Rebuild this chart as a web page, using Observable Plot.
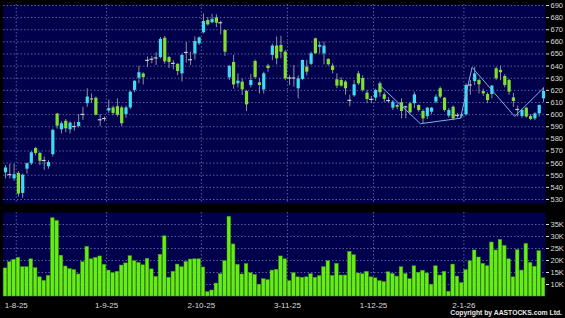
<!DOCTYPE html>
<html><head><meta charset="utf-8">
<script src="https://cdn.jsdelivr.net/npm/d3@7"></script>
<script src="https://cdn.jsdelivr.net/npm/@observablehq/plot@0.6"></script>
<style>
html,body{margin:0;padding:0;background:#000;}
#chart{position:relative;width:565px;height:318px;background:#000;overflow:hidden;font-family:"Liberation Sans",Arial,sans-serif;}
#chart svg{display:block;}
#copy{position:absolute;right:3px;bottom:1px;color:#e8e8e8;font-size:6.8px;font-weight:bold;line-height:9px;white-space:nowrap;}
</style></head><body><div id="chart"><div id="copy">Copyright by AASTOCKS.com Ltd.</div></div>
<script>
const open = [552,550.3,547,551.5,535,555,559.5,572,568,562,557,567,600.5,587.5,594.5,587.5,590,590.2,600,609,
613,613.5,596,596.5,603,605.5,606.5,605.5,600,605.5,620,630,633.5,644.5,646,646.5,647,663,647,642,
641.5,633.6,651,645.5,650,658.4,667.5,677.6,675.7,679.8,675.5,669.4,630.3,643,625.4,626.8,619,624,643.8,626.2,
620.4,640,648.8,656.5,657,651.5,630.5,629.8,621.3,629,639.1,641.5,662.5,655.6,650.1,645.5,640,628.7,628.1,626.8,
611.5,615.5,633.6,629.8,617.7,612.3,613.6,625.4,616.3,612,605.3,607.5,609.7,606.2,608.9,609,607.5,602.6,598.4,602,
610.3,621.3,613.6,598.7,606.1,599.1,598.7,599.8,624.2,627.3,628.1,619,616.6,616.6,637.8,636.5,631.4,628.1,613.8,604,
598.5,605.3,598.4,596.5,600.6,613];
const close = [556,550.8,550.5,534.5,550,559.5,568.5,568,561.5,562.3,560.5,587,590.5,592.5,588.3,593,590.3,593.5,600.3,614.5,
612,599.5,595.5,597,605,601,599.5,592.5,605.5,618.5,627.5,634.5,630.5,645,645.3,647,662,643.5,643,642.5,
635.5,648.8,651.5,645,660.3,663.3,676.8,674,678.5,675.4,676,651.5,639.7,624.5,627.6,620.4,608,628.1,630.5,624,
633.6,638,656.5,646,651.5,629.5,629.8,630.5,629.5,644.6,635,650.1,650.1,657,656.5,641.1,636.4,623.5,623.5,621.3,
612,624.6,625.4,620,612.5,612.8,619.9,618,612.5,611.2,610.3,606.1,602.6,606.6,601.5,616.3,603.4,596.5,605.3,605.3,
614.4,614.4,603.4,603.4,596.5,599.5,599.8,624,624.6,633.6,624.6,617.1,611.6,623.5,629.5,634.5,624,618.5,610.8,604.4,
603.4,598,596,600.6,607.5,619.1];
const high = [558,559,559,553,551,560,569.5,573,569,565,562,588,601,594,596,594,593.8,600,606,621.3,
617,614.5,600,598,612,607,613,607,607,619,628,639.7,634.5,647.5,648,651,663.5,664.5,648,644.5,
642,650,659.5,651.5,664,664,683,680,682.6,682.3,677,670,640.5,649,633.6,629.5,620,633,645,630,
635,641.5,658,664,664.5,653,632,640.5,632,645,644.7,651.5,663,659.8,659.8,646,641.9,633.6,630.3,628,
616,628,635.5,632,620,615,621,626.8,618,614,611.7,609,613,607,610,618.5,608,604,606,606,
616.3,622.7,614,605,607,601,600.5,625.4,628,639,629,621,618,624,639,639.9,633,629,617.5,607,
604.5,606,600,601.5,608,622];
const low = [547,547,545,532,531,551,558,566,558,554,555,565,588,584,585,584,586.4,589,595,606,
609,599,590,594,601,599,598,590,597,604,618,625.4,624.5,639,642,640.5,646,641.5,638,637,
632,627,642.5,640.5,645,657,666.5,673,675,671.7,665.8,648,628,621,622,615.8,602.6,622,629,617,
617,635,644.6,641,646,628,624,622.6,613,628,632,640.5,650,650,641,640,633.6,621.3,622.6,616,
606.5,614.4,624,618.5,609,609,611,614.4,610,609,603.4,604,596.5,596.5,600.6,605,602,592.5,596,600,
609,613,602,597,595,597,596.5,598.7,616,624,617,615,609,613,628,628,622,616,606,598,
597,597,595,595,598,610];
const volume = [16.7,19.3,20.3,21.1,17.2,17.2,20.5,16.8,13.0,11.5,13.6,37.6,36.5,22.0,17.5,16.4,16.0,14.2,19.3,25.7,
20.5,21.1,21.7,18.2,15.8,14.7,15.3,17.9,18.8,21.8,19.7,19.0,18.0,20.7,16.3,13.2,22.4,30.1,12.8,15.3,
18.3,17.2,19.4,20.4,20.5,20.5,17.1,6.8,7.5,10.4,14.3,19.7,38.2,26.7,18.2,14.2,18.5,14.7,14.0,9.9,
12.2,11.8,15.8,16.1,21.7,20.5,11.4,14.7,13.0,12.8,13.0,14.3,12.8,13.5,17.2,19.7,13.6,18.6,13.75,13.75,
23.6,22.2,14.6,14.3,15.3,13.0,12.6,11.4,11.0,15.1,14.4,13.3,17.2,14.4,12.2,17.6,14.9,15.7,14.6,9.9,
17.6,13.75,15.3,7.0,18.3,13.3,10.6,16.0,19.7,24.2,21.25,18.6,17.6,27.5,24.2,28.6,26.1,20.5,13.0,24.3,
15.8,26.9,19.0,17.4,23.9,12.6];
const zigzagIndex = [86.7, 96.4, 105.7, 108.4, 118.3, 125];
const zigzagPrice = [625, 592.5, 597, 639, 598.5, 622];
const tickPos = [2.5, 23.5, 45.5, 65.5, 85.5, 106.5];
const tickLabels = ["1-8-25", "1-9-25", "2-10-25", "3-11-25", "1-12-25", "2-1-26"];
const priceTicks = d3.range(530, 691, 10);
const volTicks = [10, 15, 20, 25, 30, 35];

const NAVY = "#00004c", GRID = "#55609a", CYAN = "#3fdcf0", GREEN = "#80e030",
      WICK = "#8e8e9e", DOJI = "#c8c8c8", ZZ = "#7fb2e6", VFILL = "#66ee14", VSTROKE = "#3f9a10", TXT = "#dcdcdc";
const FONT = "Liberation Sans, Arial, sans-serif";
const xDomain = [-0.46, 125.46];

const idx = d3.range(open.length);
const candles = idx.map(i => ({i, o: open[i], h: high[i], l: low[i], c: close[i]}));
const bodies = candles.filter(d => Math.abs(d.c - d.o) >= 1);
const dojis = candles.filter(d => Math.abs(d.c - d.o) < 1);
const zz = zigzagIndex.map((x, k) => ({x, p: zigzagPrice[k]}));
const vol = idx.map(i => ({i, v: volume[i]}));

const pricePlot = Plot.plot({
  width: 565, height: 204,
  marginTop: 4, marginBottom: 1, marginLeft: 3, marginRight: 20,
  style: {background: "transparent", color: TXT, fontSize: "8px", fontFamily: FONT},
  x: {domain: xDomain, axis: null},
  y: {domain: [526.7, 690.8], axis: null},
  marks: [
    Plot.frame({fill: NAVY, stroke: null}),
    Plot.gridY(priceTicks, {stroke: GRID, strokeOpacity: 1, strokeDasharray: "1.5,2"}),
    Plot.gridX(tickPos, {stroke: GRID, strokeOpacity: 1, strokeDasharray: "1.5,2"}),
    Plot.ruleX(candles, {x: "i", y1: "l", y2: "h", stroke: WICK, strokeWidth: 1}),
    Plot.ruleX(bodies, {x: "i", y1: "o", y2: "c", stroke: d => d.c > d.o ? CYAN : GREEN, strokeWidth: 3.2}),
    Plot.ruleY(dojis, {y: d => (d.o + d.c) / 2, x1: d => d.i - 0.45, x2: d => d.i + 0.45, stroke: DOJI, strokeWidth: 1.2}),
    Plot.line(zz, {x: "x", y: "p", stroke: ZZ, strokeWidth: 1}),
    Plot.axisY(priceTicks, {anchor: "right", label: null, tickSize: 3, tickPadding: 2, stroke: TXT, fill: TXT, fontSize: 7.5})
  ]
});

const volPlot = Plot.plot({
  width: 565, height: 114,
  marginTop: 8, marginBottom: 22, marginLeft: 3, marginRight: 20,
  style: {background: "transparent", color: TXT, fontSize: "8px", fontFamily: FONT},
  x: {domain: xDomain, axis: null},
  y: {domain: [5, 40], axis: null},
  marks: [
    Plot.frame({fill: NAVY, stroke: null}),
    Plot.gridY(volTicks, {stroke: GRID, strokeOpacity: 1, strokeDasharray: "1.5,2"}),
    Plot.gridX(tickPos, {stroke: GRID, strokeOpacity: 1, strokeDasharray: "1.5,2"}),
    Plot.rectY(vol, {x1: d => d.i - 0.42, x2: d => d.i + 0.42, y1: 5, y2: "v", fill: VFILL, stroke: VSTROKE, strokeWidth: 0.5}),
    Plot.axisY(volTicks, {anchor: "right", label: null, tickSize: 3, tickPadding: 2, tickFormat: d => d + "K", fill: TXT, fontSize: 7.5}),
    Plot.axisX(tickPos, {anchor: "bottom", label: null, tickSize: 0, tickPadding: 6, tickFormat: d => tickLabels[tickPos.indexOf(d)], fill: TXT, fontSize: 8})
  ]
});

const chart = document.getElementById("chart");
chart.insertBefore(volPlot, chart.firstChild);
chart.insertBefore(pricePlot, chart.firstChild);
</script>
</body></html>
